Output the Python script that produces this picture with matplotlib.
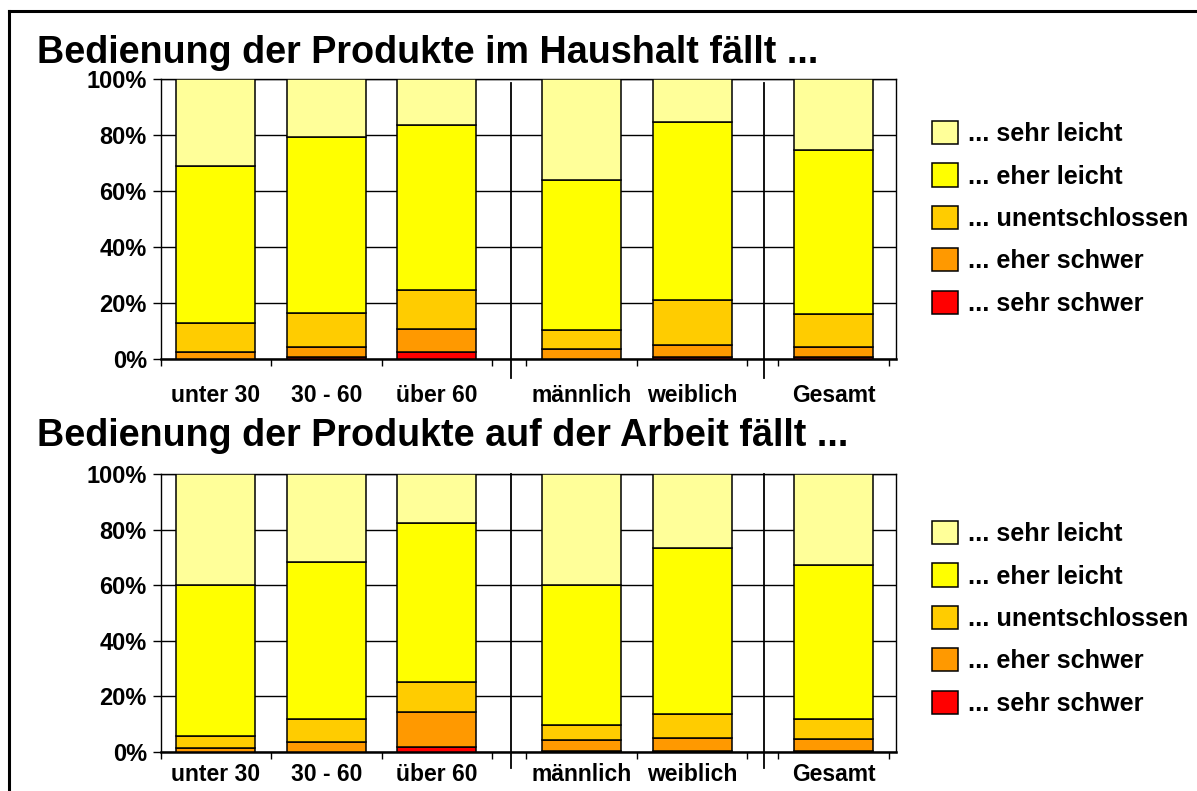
import matplotlib
matplotlib.use("Agg")
import numpy as np
import matplotlib.pyplot as plt
from matplotlib.lines import Line2D
from matplotlib.ticker import FuncFormatter

# ---------------- data ----------------
categories = ["unter 30", "30 - 60", "über 60", "männlich", "weiblich", "Gesamt"]
series_labels = ["... sehr schwer", "... eher schwer", "... unentschlossen",
                 "... eher leicht", "... sehr leicht"]

haushalt_sehr_schwer = [0.0, 0.7, 2.3, 0.0, 0.7, 0.7]
haushalt_eher_schwer = [2.3, 3.6, 8.3, 3.3, 4.3, 3.5]
haushalt_unentschlossen = [10.3, 12.0, 14.0, 6.8, 16.1, 11.6]
haushalt_eher_leicht = [56.3, 63.0, 59.0, 53.8, 63.3, 58.7]
haushalt_sehr_leicht = [31.1, 20.7, 16.4, 36.1, 15.6, 25.5]

arbeit_sehr_schwer = [0.0, 0.0, 1.7, 0.3, 0.4, 0.4]
arbeit_eher_schwer = [1.5, 3.6, 12.8, 4.1, 4.6, 4.4]
arbeit_unentschlossen = [4.4, 8.4, 10.8, 5.4, 8.7, 7.0]
arbeit_eher_leicht = [54.4, 56.3, 57.3, 50.5, 59.9, 55.4]
arbeit_sehr_leicht = [39.7, 31.7, 17.4, 39.7, 26.4, 32.8]

yticks = [0, 20, 40, 60, 80, 100]
title_top = "Bedienung der Produkte im Haushalt fällt ..."
title_bottom = "Bedienung der Produkte auf der Arbeit fällt ..."

# ---------------- style / layout ----------------
colors = ["#FF0000", "#FF9900", "#FFCC00", "#FFFF00", "#FFFF99"]
group_sizes = [3, 2, 1]
group_starts = [0.0, 3.31, 5.59]
separators = [3.17, 5.46]
bar_width = 0.715
xmax = 6.654

plt.rcParams["font.family"] = ["Liberation Sans", "DejaVu Sans"]
plt.rcParams["font.weight"] = "bold"

W, H = 1197, 791
fig = plt.figure(figsize=(W / 100, H / 100), dpi=100)

xpos = []
tickpos = []
for start, n in zip(group_starts, group_sizes):
    for i in range(n):
        xpos.append(start + i + 0.5)
    for k in range(n + 1):
        tickpos.append(start + k)
xpos = np.array(xpos)


def make_axes(top_px, bottom_px):
    left_px, right_px = 160.7, 896.0
    return fig.add_axes([left_px / W, 1 - bottom_px / H,
                         (right_px - left_px) / W, (bottom_px - top_px) / H])


def draw(ax, series, sep_top, sep_bottom, legend_top_px, xpad):
    bottom = np.zeros(len(categories))
    handles = []
    for vals, col, lab in zip(series, colors, series_labels):
        vals = np.array(vals, dtype=float)
        b = ax.bar(xpos, vals, bar_width, bottom=bottom, color=col,
                   edgecolor="black", linewidth=1.1, label=lab, zorder=3)
        handles.append(b)
        bottom += vals
    ax.set_xlim(0, xmax)
    ax.set_ylim(0, 100)
    ax.set_yticks(yticks)
    ax.yaxis.set_major_formatter(FuncFormatter(lambda v, p: f"{int(v)}%"))
    ax.yaxis.grid(True, color="black", linewidth=1.0, zorder=0)
    ax.set_axisbelow(True)
    ax.tick_params(axis="y", direction="out", length=6, width=1.0,
                   labelsize=17, pad=4)
    ax.set_xticks(tickpos)
    ax.set_xticklabels([])
    ax.tick_params(axis="x", which="major", direction="out", length=5, width=1.0)
    ax.set_xticks(xpos, minor=True)
    ax.set_xticklabels(categories, minor=True)
    ax.tick_params(axis="x", which="minor", length=0, pad=xpad, labelsize=16.5)
    for lab in ax.get_xticklabels(minor=True) + ax.get_yticklabels():
        lab.set_fontweight("bold")
    for s in ["left", "right", "top"]:
        ax.spines[s].set_linewidth(1.0)
    ax.spines["bottom"].set_linewidth(1.8)
    for sx in separators:
        ax.plot([sx, sx], [sep_top, sep_bottom], color="black", lw=1.3,
                clip_on=False, zorder=4)
    leg = ax.legend(handles[::-1], series_labels[::-1], loc="upper left",
                    bbox_to_anchor=(932 / W, 1 - legend_top_px / H),
                    bbox_transform=fig.transFigure, frameon=False,
                    fontsize=18.2, handlelength=1.03, handleheight=1.03,
                    labelspacing=0.68, handletextpad=0.4, borderpad=0,
                    borderaxespad=0)
    for t in leg.get_texts():
        t.set_fontweight("bold")


ax1 = make_axes(78.7, 358.7)
draw(ax1, [haushalt_sehr_schwer, haushalt_eher_schwer, haushalt_unentschlossen,
           haushalt_eher_leicht, haushalt_sehr_leicht], 98.5, -7.0, 121, 18.5)

ax2 = make_axes(474.3, 752.0)
draw(ax2, [arbeit_sehr_schwer, arbeit_eher_schwer, arbeit_unentschlossen,
           arbeit_eher_leicht, arbeit_sehr_leicht], 100, -5.8, 521, 8)

fig.text(37 / W, 1 - 63 / H, title_top, fontsize=27.2, fontweight="bold",
         va="baseline", ha="left")
fig.text(37 / W, 1 - 446 / H, title_bottom, fontsize=27.2, fontweight="bold",
         va="baseline", ha="left")

# outer frame
fig.add_artist(Line2D([9 / W, 1.0], [1 - 11 / H, 1 - 11 / H],
                      transform=fig.transFigure, color="black", lw=2.2))
fig.add_artist(Line2D([9 / W, 9 / W], [0.0, 1 - 11 / H],
                      transform=fig.transFigure, color="black", lw=2.2))

fig.savefig("out.png", dpi=100)
